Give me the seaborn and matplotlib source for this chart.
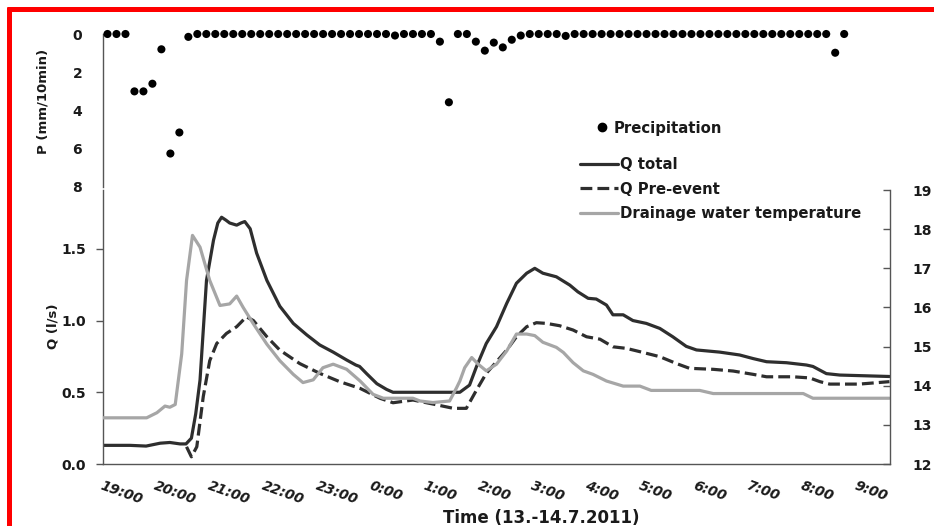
import numpy as np
import pandas as pd
import matplotlib
matplotlib.use("Agg")
import matplotlib.pyplot as plt
import seaborn as sns
from matplotlib.lines import Line2D
from matplotlib.ticker import MultipleLocator

# ---------------- data (time in hours after 19:00 on 13.7.2011) ----------------
hour_labels = ["19:00", "20:00", "21:00", "22:00", "23:00", "0:00", "1:00", "2:00",
               "3:00", "4:00", "5:00", "6:00", "7:00", "8:00", "9:00"]

# precipitation, 10-min sums (mm/10min), minutes after 19:00
p_minutes = list(range(5, 835, 10))
p_values = [0, 0, 0, 3.0, 3.0, 2.6, 0.8, 6.25, 5.15, 0.15,
            0, 0, 0, 0, 0, 0, 0, 0, 0, 0,
            0, 0, 0, 0, 0, 0, 0, 0, 0, 0,
            0, 0, 0.08, 0, 0, 0, 0, 0.4, 3.57, 0,
            0, 0.4, 0.87, 0.45, 0.7, 0.3, 0.08, 0, 0, 0,
            0, 0.1, 0, 0, 0, 0, 0, 0, 0, 0,
            0, 0, 0, 0, 0, 0, 0, 0, 0, 0,
            0, 0, 0, 0, 0, 0, 0, 0, 0, 0,
            0, 0.98, 0]

qtot_t = [0.00, 0.50, 0.80, 1.06, 1.24, 1.43, 1.54, 1.64, 1.72, 1.80, 1.92, 2.05, 2.13,
          2.20, 2.28, 2.35, 2.48, 2.56, 2.63, 2.73, 2.85, 3.04, 3.28, 3.53, 3.78, 4.02,
          4.27, 4.52, 4.69, 4.76, 4.89, 5.08, 5.26, 5.38, 6.62, 6.80, 6.93, 7.11, 7.30,
          7.49, 7.67, 7.86, 8.01, 8.16, 8.41, 8.66, 8.81, 9.00, 9.15, 9.34, 9.46, 9.65,
          9.83, 10.08, 10.33, 10.57, 10.82, 11.01, 11.44, 11.81, 12.06, 12.31, 12.68,
          13.05, 13.17, 13.42, 13.67, 14.59]
qtot_v = [0.13, 0.13, 0.125, 0.145, 0.15, 0.14, 0.14, 0.18, 0.35, 0.585, 1.28, 1.56, 1.68,
          1.72, 1.70, 1.68, 1.665, 1.68, 1.69, 1.64, 1.47, 1.28, 1.10, 0.98, 0.90, 0.83,
          0.78, 0.725, 0.69, 0.68, 0.63, 0.56, 0.52, 0.50, 0.50, 0.55, 0.68, 0.84, 0.957,
          1.12, 1.26, 1.33, 1.364, 1.33, 1.305, 1.247, 1.20, 1.155, 1.15, 1.108, 1.04, 1.04,
          1.00, 0.98, 0.945, 0.887, 0.82, 0.795, 0.78, 0.76, 0.735, 0.713, 0.706,
          0.69, 0.68, 0.63, 0.62, 0.61]

qpre_t = [1.55, 1.64, 1.74, 1.86, 1.98, 2.11, 2.29, 2.48, 2.66, 2.79, 3.04, 3.28, 3.65,
          4.02, 4.39, 4.77, 5.14, 5.38, 5.75, 6.12, 6.50, 6.74, 6.93, 7.11, 7.30, 7.49,
          7.67, 7.86, 8.04, 8.23, 8.47, 8.72, 8.97, 9.22, 9.46, 9.71, 9.96, 10.33, 10.64,
          10.88, 11.32, 11.69, 12.06, 12.31, 12.80, 13.11, 13.30, 13.48, 14.03, 14.59]
qpre_v = [0.12, 0.05, 0.12, 0.47, 0.72, 0.84, 0.91, 0.957, 1.026, 1.00, 0.887, 0.794, 0.70,
          0.632, 0.574, 0.527, 0.458, 0.427, 0.446, 0.418, 0.388, 0.388, 0.516, 0.632, 0.713, 0.794,
          0.887, 0.957, 0.985, 0.98, 0.964, 0.934, 0.887, 0.87, 0.817, 0.806, 0.783, 0.748, 0.70,
          0.667, 0.66, 0.648, 0.625, 0.608, 0.608, 0.60, 0.574, 0.557, 0.557, 0.574]

temp_t = [0.00, 0.81, 1.00, 1.15, 1.24, 1.34, 1.46, 1.55, 1.66, 1.80, 1.98, 2.17, 2.35,
          2.48, 2.60, 2.79, 3.04, 3.28, 3.53, 3.71, 3.90, 4.08, 4.27, 4.52, 4.77, 5.01,
          5.20, 5.51, 5.75, 5.88, 6.12, 6.43, 6.56, 6.62, 6.71, 6.84, 6.96, 7.11, 7.30,
          7.49, 7.67, 7.86, 8.01, 8.16, 8.41, 8.54, 8.72, 8.91, 9.09, 9.34, 9.65, 9.96,
          10.17, 11.07, 11.32, 12.99, 13.17, 14.59]
temp_v = [13.18, 13.18, 13.31, 13.48, 13.45, 13.52, 14.81, 16.69, 17.84, 17.54, 16.69, 16.05, 16.09,
          16.29, 16.00, 15.58, 15.06, 14.64, 14.29, 14.08, 14.15, 14.46, 14.55, 14.42, 14.12, 13.78,
          13.68, 13.68, 13.68, 13.61, 13.57, 13.61, 13.95, 14.12, 14.46, 14.72, 14.55, 14.38, 14.55,
          14.89, 15.32, 15.32, 15.28, 15.11, 14.98, 14.85, 14.59, 14.38, 14.29, 14.12, 13.99, 13.99,
          13.88, 13.88, 13.80, 13.80, 13.68, 13.68]

# ---------------- style ----------------
sns.set_style("white")
plt.rcParams["font.family"] = ["DejaVu Sans"]
plt.rcParams["font.weight"] = "bold"
TXT = "#1a1a1a"
SPINE = "#555555"
DARK = "#2e2e2e"
LIGHT = "#a6a6a6"

W, H = 934, 526
fig = plt.figure(figsize=(W / 100, H / 100), dpi=100)
fig.patch.set_facecolor("white")

ax = fig.add_axes([103 / W, (H - 464) / H, 787 / W, 274 / H])
axp = fig.add_axes([103 / W, (H - 187) / H, 787 / W, 153 / H])
axt = ax.twinx()

p_df = pd.DataFrame({"hour": np.array(p_minutes) / 60.0, "P": p_values})
qt_df = pd.DataFrame({"hour": qtot_t, "Q": qtot_v})
qp_df = pd.DataFrame({"hour": qpre_t, "Q": qpre_v})
tp_df = pd.DataFrame({"hour": temp_t, "T": temp_v})

# ---- precipitation panel ----
sns.scatterplot(data=p_df, x="hour", y="P", ax=axp, color="black", s=34,
                edgecolor="none", clip_on=False, zorder=3, legend=False)
axp.set_xlim(0, 14.6)
axp.set_ylim(8, 0)
axp.set_yticks([0, 2, 4, 6, 8])
axp.set_yticklabels(["0", "2", "4", "6", "8"])
axp.set_xticks([])
axp.set_xlabel("")
for s in ["top", "right", "bottom"]:
    axp.spines[s].set_visible(False)
axp.spines["left"].set_color(SPINE)
axp.spines["left"].set_linewidth(1.0)
axp.tick_params(axis="y", direction="out", length=5, width=1, color=SPINE,
                pad=10, labelsize=10, labelcolor=TXT)
axp.set_ylabel("P (mm/10min)", fontsize=9.5, fontweight="bold", color=TXT)
axp.yaxis.set_label_coords(50 / W, (H - 101) / H, transform=fig.transFigure)
axp.patch.set_alpha(0)

# ---- discharge + temperature ----
sns.lineplot(data=qt_df, x="hour", y="Q", ax=ax, color=DARK, lw=2.3,
             estimator=None, sort=False, label="Q total", legend=False)
sns.lineplot(data=qp_df, x="hour", y="Q", ax=ax, color=DARK, lw=2.3, linestyle="--",
             estimator=None, sort=False, label="Q Pre-event", legend=False)
sns.lineplot(data=tp_df, x="hour", y="T", ax=axt, color=LIGHT, lw=2.3,
             estimator=None, sort=False, label="Drainage water temperature", legend=False)

ax.set_xlim(0, 14.6)
ax.set_ylim(0, 1.91)
axt.set_ylim(12, 19)
ax.set_yticks([0, 0.5, 1.0, 1.5])
ax.set_yticklabels(["0.0", "0.5", "1.0", "1.5"])
axt.set_yticks(range(12, 20))
axt.set_yticklabels([str(v) for v in range(12, 20)])
ax.set_xticks(range(len(hour_labels)))
ax.set_xticklabels(hour_labels, rotation=-20, ha="left", va="top",
                   rotation_mode="anchor", fontstyle="italic", fontweight="bold")
ax.xaxis.set_minor_locator(MultipleLocator(0.25))

for s in ["top", "right"]:
    ax.spines[s].set_visible(False)
for s in ["left", "bottom"]:
    ax.spines[s].set_color(SPINE)
    ax.spines[s].set_linewidth(1.0)
for s in ["top", "left", "bottom"]:
    axt.spines[s].set_visible(False)
axt.spines["right"].set_color(SPINE)
axt.spines["right"].set_linewidth(1.0)

ax.tick_params(axis="y", direction="out", length=5, width=1, color=SPINE,
               pad=7, labelsize=10, labelcolor=TXT)
ax.tick_params(axis="x", which="major", direction="inout", length=9, width=1,
               color=SPINE, pad=6, labelsize=10, labelcolor=TXT)
ax.tick_params(axis="x", which="minor", direction="in", length=3, width=0.8, color=SPINE)
axt.tick_params(axis="y", direction="in", length=5, width=1, color=SPINE,
                pad=16, labelsize=10, labelcolor=TXT)

ax.set_ylabel("Q (l/s)", fontsize=9.5, fontweight="bold", color=TXT)
ax.yaxis.set_label_coords(59 / W, (H - 326) / H, transform=fig.transFigure)
axt.set_ylabel("")
ax.set_xlabel("Time (13.-14.7.2011)", fontsize=12, fontweight="bold", color=TXT)
ax.xaxis.set_label_coords(541 / W, (H - 509) / H, transform=fig.transFigure)

# ---- legends ----
p_handle = Line2D([], [], marker="o", linestyle="none", color="black", markersize=6)
fig.legend([p_handle], ["Precipitation"], loc="center left",
           bbox_to_anchor=(595 / W, (H - 128) / H), frameon=False, borderpad=0,
           borderaxespad=0, handlelength=1.0, handletextpad=0.25,
           prop={"weight": "bold", "size": 10.7}, labelcolor=TXT)
line_handles = [ax.lines[0], ax.lines[1], axt.lines[0]]
fig.legend(line_handles, ["Q total", "Q Pre-event", "Drainage water temperature"],
           loc="center left", bbox_to_anchor=(580 / W, (H - 189) / H), frameon=False,
           borderpad=0, borderaxespad=0, handlelength=2.56, handletextpad=0.13,
           labelspacing=0.65, prop={"weight": "bold", "size": 10.7}, labelcolor=TXT)

# ---- red frame (cropped) ----
fig.add_artist(Line2D([9.2 / W, 9.2 / W], [0, (H - 6.7) / H], color="#ff0000",
                      lw=3.6, transform=fig.transFigure, solid_capstyle="butt"))
fig.add_artist(Line2D([6.7 / W, 1], [(H - 9.2) / H, (H - 9.2) / H], color="#ff0000",
                      lw=3.6, transform=fig.transFigure, solid_capstyle="butt"))

fig.savefig("out.png", dpi=100, facecolor="white")
